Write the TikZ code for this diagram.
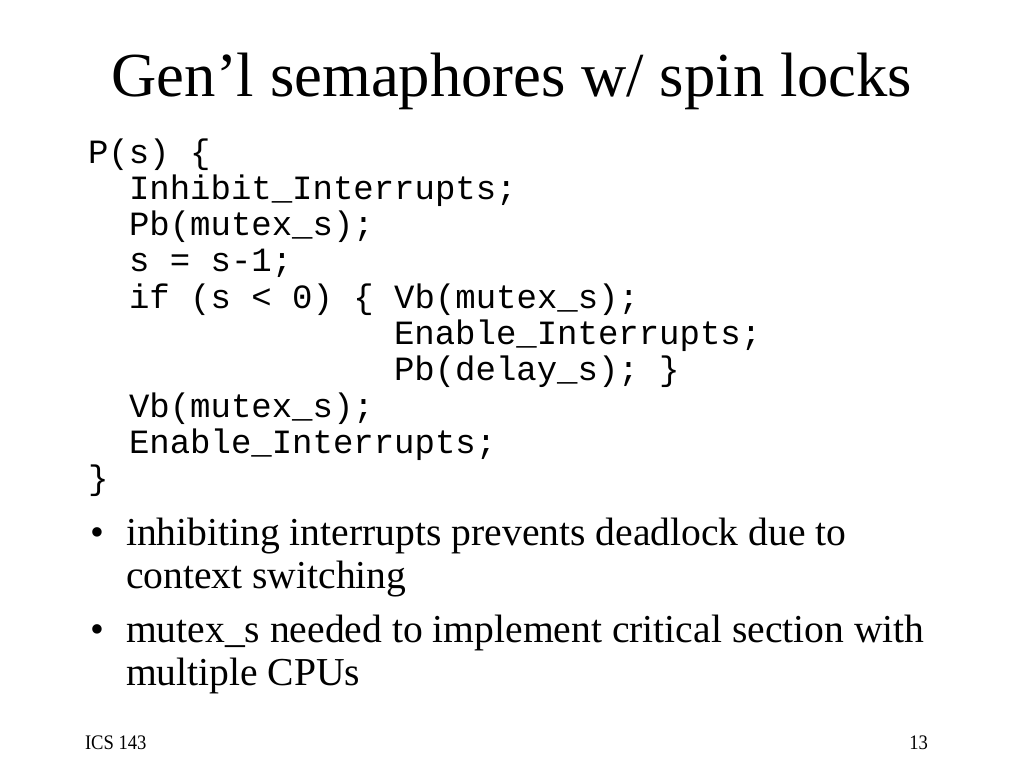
\documentclass[tikz,border=0pt]{standalone}
\usepackage{fontspec}
\setmainfont{Liberation Serif}
\setmonofont{Liberation Mono}
\usetikzlibrary{positioning}

\begin{document}
\begin{tikzpicture}[x=0.75pt,y=-0.75pt,
	every node/.style={inner sep=0pt,outer sep=0pt,anchor=base west},
	title node/.style={font=\fontsize{47}{50}\selectfont,anchor=base},
	code node/.style={font=\fontsize{25.5}{30}\ttfamily},
	bullet node/.style={font=\fontsize{29.7}{34}\selectfont},
	foot node/.style={font=\fontsize{15.5}{17}\selectfont,xscale=0.9}]
	
	\useasboundingbox[fill=white] (0,0) rectangle (1024,768);
	
	\node[title node] (title) at (512,96) {Gen’l semaphores w/ spin locks};
	
	% code of P(s)
	\node[code node] (c1) at (88,163) {P(s) \{};
	\node[code node] (c2) at (129,199.3) {Inhibit\_Interrupts;};
	\node[code node] (c3) at (129,235.6) {Pb(mutex\_s);};
	\node[code node] (c4) at (129,271.9) {s = s-1;};
	\node[code node] (c5) at (129,308.2) {if (s < 0) \{ Vb(mutex\_s);};
	\node[code node] (c6) at (394,344.5) {Enable\_Interrupts;};
	\node[code node] (c7) at (394,380.8) {Pb(delay\_s); \}};
	\node[code node] (c8) at (129,417.1) {Vb(mutex\_s);};
	\node[code node] (c9) at (129,453.4) {Enable\_Interrupts;};
	\node[code node] (c10) at (88,489.7) {\}};
	
	% bullets
	\node[bullet node] (b1) at (90,545) {•};
	\node[bullet node] (t1) at (126,545) {inhibiting interrupts prevents deadlock due to};
	\node[bullet node] (t1b) at (126,588) {context switching};
	\node[bullet node] (b2) at (90,642) {•};
	\node[bullet node] (t2) at (126,642) {mutex\_s needed to implement critical section with};
	\node[bullet node] (t2b) at (126,685) {multiple CPUs};
	
	% footer
	\node[foot node] (ics) at (85,749) {ICS 143};
	\node[foot node,anchor=base east] (page) at (928,749) {13};
\end{tikzpicture}
\end{document}
